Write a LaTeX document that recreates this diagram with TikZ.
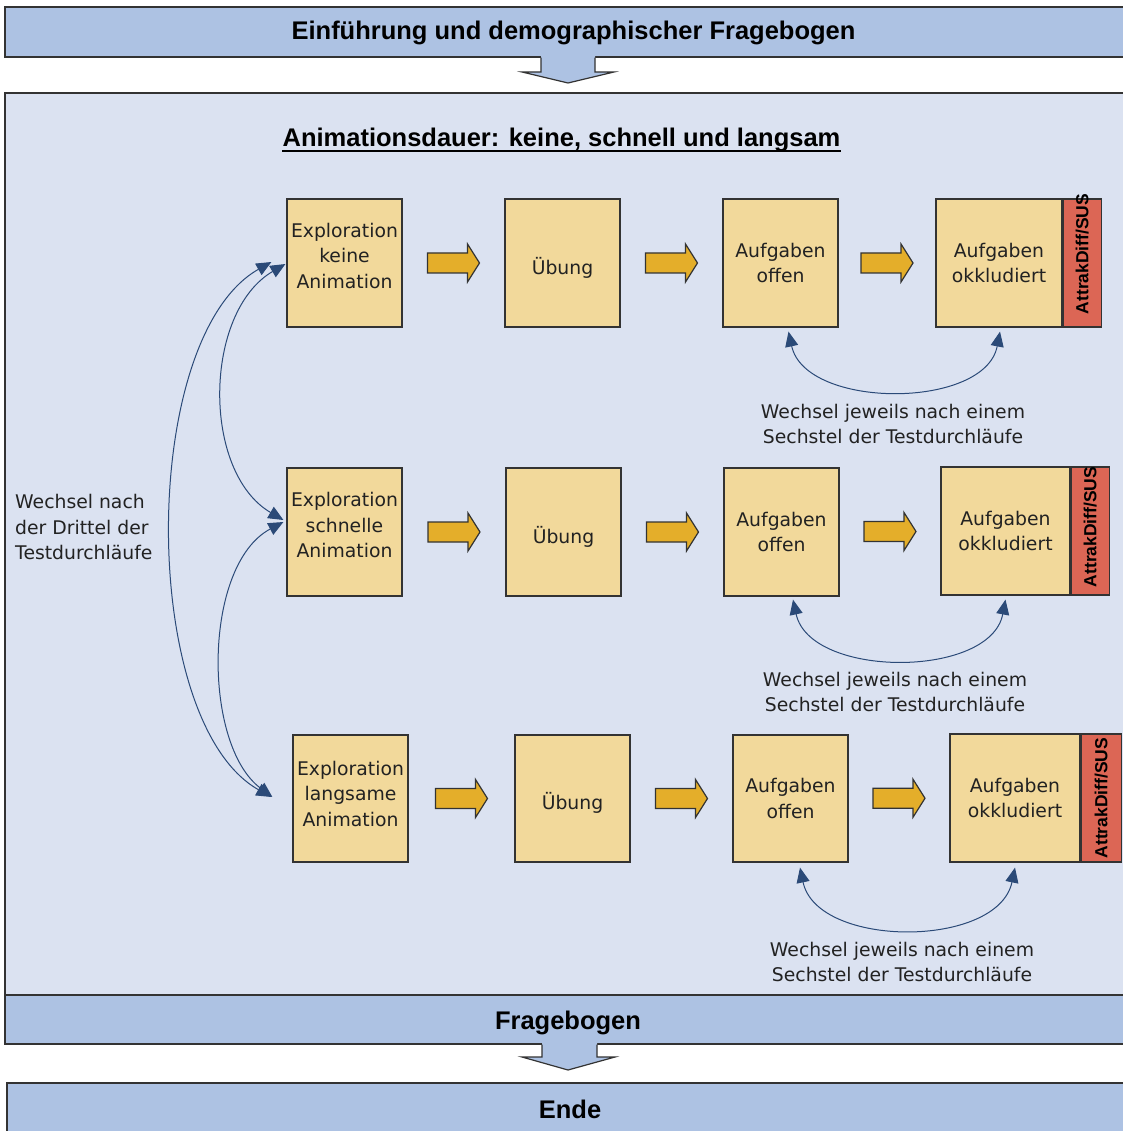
\documentclass[tikz,border=0pt]{standalone}
\usepackage{fontspec}
\setmainfont{DejaVu Sans}
\newfontfamily\hfont{Liberation Sans}
\usetikzlibrary{arrows.meta,calc}
\definecolor{bannerblue}{HTML}{ADC2E3}
\definecolor{panelblue}{HTML}{DBE2F1}
\definecolor{boxfill}{HTML}{F2D99B}
\definecolor{orangearr}{HTML}{E4AE2A}
\definecolor{stripred}{HTML}{DC6655}
\definecolor{curvecol}{HTML}{2B4A78}
\definecolor{edgecol}{HTML}{333333}
\definecolor{txtcol}{HTML}{222222}
\newcommand\shifttext[2]{\raisebox{#1}[\height][\depth]{\begin{tabular}{@{}c@{}}#2\end{tabular}}}
\begin{document}
\begin{tikzpicture}[x=1pt,y=-1pt,
  banner/.style={draw=edgecol,fill=bannerblue,line width=1.2pt},
  panel/.style={draw=edgecol,fill=panelblue,line width=1.2pt},
  stepbox/.style={draw=edgecol,fill=boxfill,line width=1.2pt,inner sep=0pt,align=center,text=txtcol,font=\fontsize{18.8}{25.5}\selectfont,minimum height=128pt},
  strip/.style={draw=edgecol,fill=stripred,line width=1.2pt,inner sep=0pt,minimum height=128pt},
  striptext/.style={rotate=90,font=\hfont\bfseries\fontsize{17.5}{20}\selectfont,text=black,inner sep=0pt},
  htext/.style={font=\hfont\bfseries\fontsize{25.5}{30}\selectfont,text=black,inner sep=0pt,anchor=base},
  note/.style={font=\fontsize{18.8}{25.5}\selectfont,text=txtcol,inner sep=0pt},
  oarrow/.style={draw=edgecol,fill=orangearr,line width=1.2pt,line join=miter},
  downarr/.style={draw=edgecol,line width=1.2pt,line join=miter},
  cyc/.style={draw=curvecol,line width=1pt,{Triangle[length=15pt,width=13pt]}-{Triangle[length=15pt,width=13pt]}},
]
\useasboundingbox (0,0) rectangle (1122,1131);

% panel and banners
\path[panel] (5,93) rectangle (1135,995);
\path[banner] (5,7) rectangle (1135,57);
\path[banner] (5,995) rectangle (1135,1044);
\path[banner] (7,1083) rectangle (1135,1140);

% down block arrows
\fill[bannerblue] (541,56) -- (541,72) -- (522,72) -- (568,83) -- (614,72) -- (595,72) -- (595,56) -- cycle;
\draw[downarr] (541,57.6) -- (541,72) -- (522,72) -- (568,83) -- (614,72) -- (595,72) -- (595,57.6);
\fill[bannerblue] (542,1043) -- (542,1057) -- (522,1057) -- (568,1070) -- (615,1057) -- (597,1057) -- (597,1043) -- cycle;
\draw[downarr] (542,1044.6) -- (542,1057) -- (522,1057) -- (568,1070) -- (615,1057) -- (597,1057) -- (597,1044.6);

% banner texts and title
\node[htext] (introtxt) at (573.5,40) {Einführung und demographischer Fragebogen};
\node[htext] (fragetxt) at (568,1029) {Fragebogen};
\node[htext] (endetxt) at (570,1118) {Ende};
\node[htext] (title) at (561.5,147) {Animationsdauer: keine, schnell und langsam};
\draw[black,line width=1.3pt] ([yshift=-4pt]title.base west) -- ([yshift=-4pt]title.base east);

% row 1
\node[stepbox,minimum width=115pt] (e1) at (344.5,263) {\shifttext{5.5pt}{Exploration\\keine\\Animation}};
\node[stepbox,minimum width=115pt] (u1) at (562.5,263) {\shifttext{-6pt}{Übung}};
\node[stepbox,minimum width=115pt] (a1) at (780.5,263) {Aufgaben\\offen};
\node[stepbox,minimum width=126pt] (k1) at (999,263) {Aufgaben\\okkludiert};
\node[strip,minimum width=38pt,anchor=west] (r1) at (k1.east) {};
\node[striptext] (t1) at ([yshift=9pt]r1.center) {AttrakDiff/SUS};

% row 2
\node[stepbox,minimum width=115pt] (e2) at (344.5,532) {\shifttext{5pt}{Exploration\\schnelle\\Animation}};
\node[stepbox,minimum width=115pt] (u2) at (563.5,532) {\shifttext{-6pt}{Übung}};
\node[stepbox,minimum width=115pt] (a2) at (781.5,532) {Aufgaben\\offen};
\node[stepbox,minimum width=129pt] (k2) at (1005.5,531) {Aufgaben\\okkludiert};
\node[strip,minimum width=38pt,anchor=west] (r2) at (k2.east) {};
\node[striptext] (t2) at ([yshift=4pt]r2.center) {AttrakDiff/SUS};

% row 3
\node[stepbox,minimum width=115pt,minimum height=127pt] (e3) at (350.5,798.5) {\shifttext{3pt}{Exploration\\langsame\\Animation}};
\node[stepbox,minimum width=115pt,minimum height=127pt] (u3) at (572.5,798.5) {\shifttext{-5.5pt}{Übung}};
\node[stepbox,minimum width=115pt,minimum height=127pt] (a3) at (790.5,798.5) {Aufgaben\\offen};
\node[stepbox,minimum width=130pt] (k3) at (1015,798) {Aufgaben\\okkludiert};
\node[strip,minimum width=40pt,anchor=west] (r3) at (k3.east) {};
\node[striptext] (t3) at (r3.center) {AttrakDiff/SUS};

% orange block arrows between steps
\foreach \a/\b [count=\i] in {e1/u1,u1/a1,a1/k1,e2/u2,u2/a2,a2/k2,e3/u3,u3/a3,a3/k3}{
  \coordinate (m\i) at ($(\a.east)!.5!(\b.west)$);
  \draw[oarrow] ([shift={(-26,-10)}]m\i) -- ++(40,0) -- ++(0,-9) -- ++(12,19) -- ++(-12,19) -- ++(0,-9) -- ++(-40,0) -- cycle;
}

% swap curves under the rows
\draw[cyc] ([shift={(8,4)}]a1.south) .. controls +(17,78) and +(-15,78) .. ([shift={(1,4)}]k1.south);
\draw[cyc] ([shift={(11.5,3)}]a2.south) .. controls +(17,79) and +(-15,79) .. ([shift={(0,4)}]k2.south);
\draw[cyc] ([shift={(9.5,5)}]a3.south) .. controls +(17,81) and +(-17,81) .. ([shift={(0,5)}]k3.south);

\node[note,align=center] (c1) at (893,424) {Wechsel jeweils nach einem\\Sechstel der Testdurchläufe};
\node[note,align=center] (c2) at (895,692) {Wechsel jeweils nach einem\\Sechstel der Testdurchläufe};
\node[note,align=center] (c3) at (902,962) {Wechsel jeweils nach einem\\Sechstel der Testdurchläufe};

% left curves between explorations
\draw[cyc] ([shift={(-1,1)}]e1.west) .. controls +(-82,48) and +(-82,-48) .. ([shift={(-3,-12)}]e2.west);
\draw[cyc] ([shift={(-3,-10)}]e2.west) .. controls +(-81,43) and +(-70,-52) .. ([shift={(-20,-1.5)}]e3.west);
\draw[cyc] ([shift={(-15,-1)}]e1.west) .. controls +(-133,75) and +(-133,-75) .. ([shift={(-21,-1.5)}]e3.west);

\node[note,align=left,anchor=west] (ltext) at (15,527) {Wechsel nach\\der Drittel der\\Testdurchläufe};
\end{tikzpicture}
\end{document}
